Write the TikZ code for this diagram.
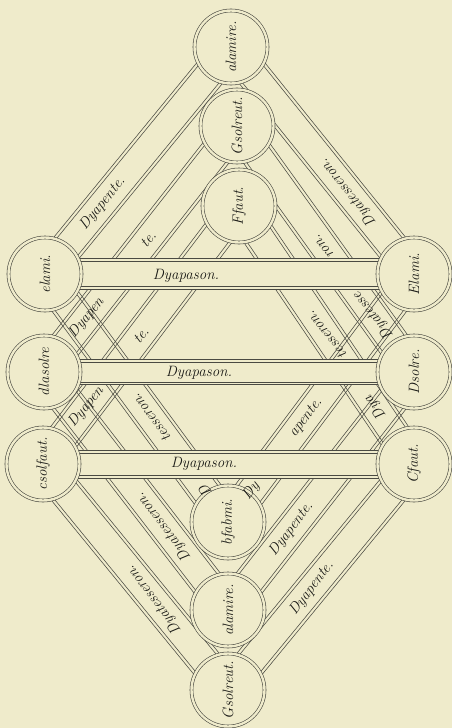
\documentclass[tikz,border=0pt]{standalone}
\usetikzlibrary{calc}
\definecolor{bg}{HTML}{EFEBCB}
\definecolor{ink}{HTML}{4A4A42}
\definecolor{txt}{HTML}{1A1A16}
\tikzset{
 bandedge/.style={draw=ink, line width=0.55pt},
 notecirc/.style={circle, draw=ink, line width=0.6pt, double=bg, double distance=2.4pt,
   fill=bg, minimum size=73pt, inner sep=0pt, text=txt,
   font=\fontsize{15}{17}\selectfont\itshape, rotate=90},
 lbl/.style={text=txt, font=\fontsize{15}{17}\selectfont\itshape, inner sep=0pt},
}
% diagonal band: two double edges
\newcommand\bandedges[2]{%
 \foreach \ofs in {13.5pt,16.5pt}{%
  \draw[bandedge] ($(#1)!\ofs!90:(#2)$) -- ($(#2)!\ofs!-90:(#1)$);
  \draw[bandedge] ($(#1)!\ofs!-90:(#2)$) -- ($(#2)!\ofs!90:(#1)$);
 }}
% horizontal bar: #1 left, #2 right, #3 outer half height, #4 inner half height
\newcommand\barband[4]{%
 \fill[bg] ($(#1)+(0,-#3)$) rectangle ($(#2)+(0,#3)$);
 \draw[bandedge] ($(#1)+(0,-#3)$) -- ($(#2)+(0,-#3)$);
 \draw[bandedge] ($(#1)+(0,-#4)$) -- ($(#2)+(0,-#4)$);
 \draw[bandedge] ($(#1)+(0,#4)$) -- ($(#2)+(0,#4)$);
 \draw[bandedge] ($(#1)+(0,#3)$) -- ($(#2)+(0,#3)$);
}
\begin{document}
\begin{tikzpicture}[x=1pt,y=-1pt]
\fill[bg] (0,0) rectangle (452,728);
\useasboundingbox (0,0) rectangle (452,728);
% centres
\coordinate (T1) at (231,47);
\coordinate (T2) at (237,126);
\coordinate (T3) at (239,206);
\coordinate (L1) at (45,274);
\coordinate (L2) at (44,372);
\coordinate (L3) at (43,464);
\coordinate (R1) at (414,274);
\coordinate (R2) at (414,372);
\coordinate (R3) at (414,464);
\coordinate (B1) at (228,522);
\coordinate (B2) at (228,610);
\coordinate (B3) at (228,690);
% diagonal bands
\bandedges{T1}{L1}\bandedges{T2}{L2}\bandedges{T3}{L3}
\bandedges{T1}{R1}\bandedges{T2}{R2}\bandedges{T3}{R3}
\bandedges{L1}{B1}\bandedges{L2}{B2}\bandedges{L3}{B3}
\bandedges{R1}{B1}\bandedges{R2}{B2}\bandedges{R3}{B3}
% horizontal bars (lie over the bands)
\barband{L1}{R1}{15.5}{12.5}
\barband{L2}{R2}{12.5}{10}
\barband{L3}{R3}{14}{11}
% circles
\node[notecirc] (cT1) at (T1) {alamire.};
\node[notecirc] (cT2) at (T2) {Gsolreut.};
\node[notecirc] (cT3) at (T3) {Ffaut.};
\node[notecirc] (cL1) at (L1) {elami.};
\node[notecirc] (cL2) at (L2) {dlasolre};
\node[notecirc] (cL3) at (L3) {csolfaut.};
\node[notecirc] (cR1) at (R1) {Elami.};
\node[notecirc] (cR2) at (R2) {Dsolre.};
\node[notecirc] (cR3) at (R3) {Cfaut.};
\node[notecirc] (cB1) at (B1) {bfabmi.};
\node[notecirc] (cB2) at (B2) {alamire.};
\node[notecirc] (cB3) at (B3) {Gsolreut.};
% bar labels
\node[lbl] (d1) at (186,276) {Dyapason.};
\node[lbl] (d2) at (199,373) {Dyapason.};
\node[lbl] (d3) at (204,464) {Dyapason.};
% upper-left
\path (T1) -- (L1) node[lbl, pos=0.69, rotate=51] (ul1) {Dyapente.};
\path (T2) -- (L2) node[lbl, pos=0.46, rotate=51] (ul2a) {te.}
                   node[lbl, pos=0.78, rotate=51] (ul2b) {Dyapen};
\path (T3) -- (L3) node[lbl, pos=0.50, rotate=51] (ul3a) {te.}
                   node[lbl, pos=0.78, rotate=51] (ul3b) {Dyapen};
% upper-right
\path (T1) -- (R1) node[lbl, pos=0.64, rotate=128.5] (ur1) {Dyatesseron.};
\path (T2) -- (R2) node[lbl, pos=0.49, rotate=128.5] (ur2a) {ron.}
                   node[lbl, pos=0.77, rotate=128.5] (ur2b) {Dyatesse};
\path (T3) -- (R3) node[lbl, pos=0.50, rotate=128.5] (ur3a) {tesseron.}
                   node[lbl, pos=0.78, rotate=128.5] (ur3b) {Dya};
% lower-left
\path (L1) -- (B1) node[lbl, pos=0.58, rotate=127] (ll1a) {tesseron.}
                   node[lbl, pos=0.875, rotate=127] (ll1b) {D};
\path (L2) -- (B2) node[lbl, pos=0.65, rotate=127] (ll2) {Dyatesseron.};
\path (L3) -- (B3) node[lbl, pos=0.60, rotate=127] (ll3) {Dyatesseron.};
% lower-right
\path (R1) -- (B1) node[lbl, pos=0.58, rotate=53] (lr1a) {apente.}
                   node[lbl, pos=0.875, rotate=53] (lr1b) {Dy};
\path (R2) -- (B2) node[lbl, pos=0.66, rotate=53] (lr2) {Dyapente.};
\path (R3) -- (B3) node[lbl, pos=0.55, rotate=53] (lr3) {Dyapente.};
\end{tikzpicture}
\end{document}
